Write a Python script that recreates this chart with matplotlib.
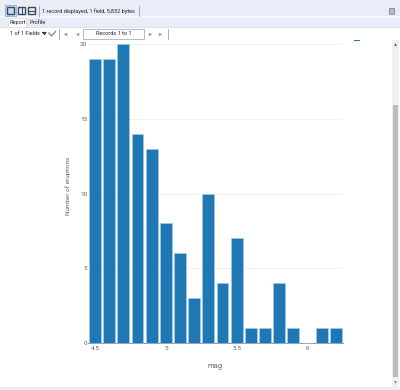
import matplotlib
matplotlib.use("Agg")
import matplotlib.pyplot as plt
from matplotlib.patches import Rectangle

# histogram values
mag = [4.5, 4.6, 4.7, 4.8, 4.9, 5.0, 5.1, 5.2, 5.3, 5.4, 5.5, 5.6, 5.7, 5.8, 5.9, 6.0, 6.1, 6.2]
eruptions = [19, 19, 20, 14, 13, 8, 6, 3, 10, 4, 7, 1, 1, 4, 1, 0, 1, 1]
x_ticks = [4.5, 5, 5.5, 6]
x_labels = ["4.5", "5", "5.5", "6"]
y_ticks = [0, 5, 10, 15, 20]

W, H = 400, 390
plt.rcParams['font.family'] = ['Roboto', 'DejaVu Sans']
fig = plt.figure(figsize=(W/100, H/100), dpi=100, facecolor="white")

# window chrome, in pixels
ui = fig.add_axes([0, 0, 1, 1])
ui.set_xlim(0, W)
ui.set_ylim(H, 0)
ui.axis("off")

def box(x, y, w, h, fc, ec="none", lw=0.8):
    ui.add_patch(Rectangle((x, y), w, h, fc=fc, ec=ec, lw=lw))

PANEL = "#e9edf8"
box(0, 0, 400, 16, PANEL)
box(0, 16, 400, 2, "#f6f8fd")
box(0, 18, 400, 9, PANEL)
box(0, 27, 400, 1, "#dfe4f0")
box(0, 387, 400, 3, PANEL)

# layout buttons
box(5, 5, 11, 11, "#c5d9f1", "#9db8d8")
box(7, 7, 7, 7, "none", "#3c4a5c", 1.0)
box(18, 7, 7, 7, "none", "#3c4a5c", 1.0)
ui.plot([21.5, 21.5], [7, 14], color="#3c4a5c", lw=0.8)
box(28, 7, 7, 7, "none", "#3c4a5c", 1.0)
ui.plot([28, 35], [10.5, 10.5], color="#3c4a5c", lw=0.8)
for sep in (38.5, 138.5):
    ui.plot([sep, sep], [6, 16], color="#9aa3b5", lw=0.6)
ui.text(42, 11, "1 record displayed, 1 field, 5,832 bytes", fontsize=3.95, va="center", color="#222222")

# tabs
box(8, 18, 18, 9, "white", "#d5dbe8", 0.5)
box(27, 19, 18, 8, PANEL, "#d5dbe8", 0.5)
ui.text(9.5, 22.5, "Report", fontsize=4.1, va="center", color="#222222")
ui.text(29.5, 23, "Profile", fontsize=4.1, va="center", color="#222222")

# records row
ui.text(10, 33.5, "1 of 1 Fields", fontsize=4.0, va="center", color="#222222")
ui.plot([43, 46, 44.5, 43], [32.5, 32.5, 34.5, 32.5], color="#333333", lw=0.8)
ui.plot([49, 51.5, 55.5], [33, 36, 31.5], color="#8a8f98", lw=1.0)
box(83, 28.5, 61, 10, "white", "#aab0bd", 0.6)
ui.text(113.5, 33.5, "Records 1 to 1", fontsize=4.0, va="center", ha="center", color="#222222")
for sep in (58.5, 167.5):
    ui.plot([sep, sep], [29, 39], color="#9aa3b5", lw=0.6)
for xp, mark in ((65, "<"), (77, "<"), (150, ">"), (160, ">")):
    ui.plot([xp], [33.5], marker=mark, ms=2.5, color="#9298a3", mec="none")

# restore button, legend remnant, scrollbar
box(389, 8, 5, 6, "#b8bdc9", "#7d8596", 0.6)
box(396.5, 10.5, 1.5, 0.8, "#333333")
box(354, 40, 6, 1.2, "#1f77b4")
box(391.5, 40, 7.5, 347, "#f0f0f0")
box(392.5, 105, 5.5, 272, "#bdbdbd")
ui.plot([395], [44], marker="^", ms=2, color="#555555", mec="none")
ui.plot([395], [382], marker="v", ms=2, color="#888888", mec="none")

# chart area: 4.5 at px 95, 6 at px 307.5, 0 at px 343, 20 at px 44
left, right, top, bottom = 88, 343, 44, 343
ax = fig.add_axes([left/W, 1 - bottom/H, (right-left)/W, (bottom-top)/H])
ax.patch.set_alpha(0)
ax.bar(mag, eruptions, width=0.083, color="#1f77b4", edgecolor="#a6cee3", linewidth=0.4, zorder=3, clip_on=False)
ax.set_xlim(4.5 - 7/141.7, 4.5 + 248/141.7)
ax.set_ylim(0, 20)
ax.set_xticks(x_ticks, x_labels)
ax.set_yticks(y_ticks)
ax.grid(axis="y", color="#f2f2f2", lw=0.7, zorder=0)
ax.tick_params(length=0, labelsize=4.6, labelcolor="#666666", pad=0.5)
ax.tick_params(axis="x", pad=2)
for s in ("top", "right", "left"):
    ax.spines[s].set_visible(False)
ax.spines["bottom"].set_color("#8c8c8c")
ax.spines["bottom"].set_linewidth(0.7)
ui.text(215.5, 366, "mag", fontsize=5.4, ha="center", va="center", color="#666666")
ui.text(68.5, 186, "Number of eruptions", fontsize=4.6, rotation=90, ha="center", va="center", color="#666666")

fig.savefig("out.png", dpi=100)
